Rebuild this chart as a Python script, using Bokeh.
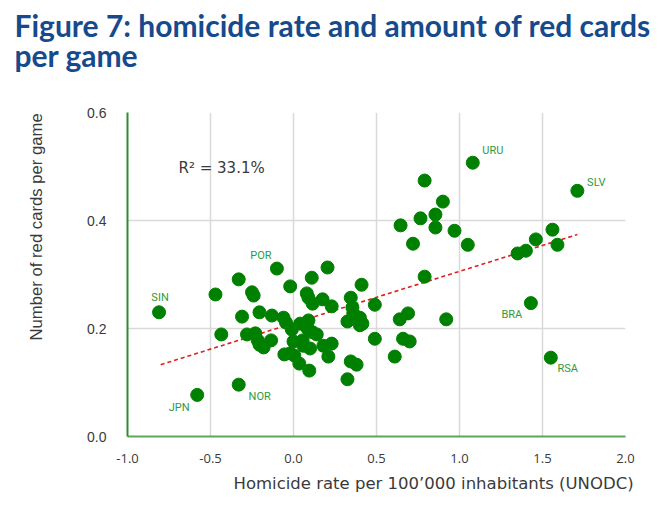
from bokeh.embed import file_html
from bokeh.models import ColumnDataSource, FixedTicker, Label, NumeralTickFormatter, Title
from bokeh.plotting import figure
from bokeh.core.properties import value
from bokeh.resources import INLINE

# Countries that carry a name tag
named_codes = ["SIN", "JPN", "NOR", "POR", "URU", "SLV", "BRA", "RSA"]
named_homicide = [-0.81, -0.58, -0.33, -0.10, 1.08, 1.71, 1.43, 1.55]
named_red_cards = [0.230, 0.077, 0.096, 0.311, 0.507, 0.455, 0.247, 0.146]

# All other countries
homicide = [
    0.79, 0.90, 0.855, 0.765, 0.645, 0.855, 0.97, 0.72, 1.05, 1.56,
    1.46, 1.40, 1.35, 1.59, 0.79, 0.69, 0.64, 0.92, 0.66, 0.70,
    0.61, 0.205, -0.33, 0.11, -0.02, 0.41, -0.47, -0.25, -0.24, 0.08,
    0.09, 0.115, 0.175, 0.23, 0.345, 0.49, -0.31, -0.205, -0.13, -0.06,
    -0.045, 0.355, 0.36, 0.325, 0.40, 0.40, 0.415, -0.435, -0.28, -0.23,
    -0.215, -0.205, -0.18, -0.135, -0.01, 0.04, 0.07, 0.09, 0.085, 0.115,
    0.14, 0.00, 0.055, 0.06, 0.10, 0.18, 0.23, 0.21, -0.055, -0.02,
    0.005, 0.035, 0.095, 0.345, 0.38, 0.325, 0.49,
]
red_cards = [
    0.474, 0.435, 0.411, 0.404, 0.391, 0.387, 0.381, 0.357, 0.355, 0.383,
    0.365, 0.344, 0.339, 0.355, 0.296, 0.228, 0.217, 0.217, 0.181, 0.176,
    0.148, 0.313, 0.291, 0.294, 0.278, 0.281, 0.263, 0.267, 0.261, 0.265,
    0.257, 0.246, 0.254, 0.241, 0.257, 0.244, 0.222, 0.230, 0.224, 0.220,
    0.211, 0.239, 0.228, 0.213, 0.220, 0.206, 0.209, 0.189, 0.189, 0.191,
    0.178, 0.170, 0.165, 0.178, 0.198, 0.209, 0.206, 0.215, 0.200, 0.193,
    0.189, 0.176, 0.178, 0.168, 0.163, 0.168, 0.172, 0.148, 0.152, 0.154,
    0.150, 0.135, 0.122, 0.139, 0.133, 0.106, 0.181,
]

# Linear trend (end points)
trend_x = [-0.80, 1.71]
trend_y = [0.133, 0.374]

r_squared_text = "R² = 33.1%"
x_ticks = [-1.0, -0.5, 0.0, 0.5, 1.0, 1.5, 2.0]
y_ticks = [0.0, 0.2, 0.4, 0.6]

# Pixel offsets of each name tag relative to its dot
tag_dx = {"SIN": 1, "JPN": -18, "NOR": 21, "POR": -16, "URU": 20, "SLV": 19, "BRA": -19, "RSA": 17}
tag_dy = {"SIN": -15, "JPN": 13, "NOR": 12, "POR": -13, "URU": -12, "SLV": -8, "BRA": 11, "RSA": 11}

GREEN = "#008000"
TAG_GREEN = "#2f9a3c"
TEXT = "#3a3a3a"
HEAD = "#164a8c"

p = figure(
    width=667, height=517,
    x_range=(-1.0, 2.0), y_range=(0.0, 0.6),
    output_backend="svg", toolbar_location=None,
    min_border_left=127, min_border_right=42,
    min_border_top=112, min_border_bottom=81,
)
p.outline_line_color = None
p.background_fill_color = "white"
p.border_fill_color = "white"

# Grid
p.xgrid.ticker = FixedTicker(ticks=x_ticks[1:])
p.ygrid.ticker = FixedTicker(ticks=y_ticks[1:])
for g in (p.xgrid, p.ygrid):
    g.grid_line_color = "#d9d9d9"
    g.grid_line_width = 1.5

# Axes
p.xaxis.ticker = FixedTicker(ticks=x_ticks)
p.yaxis.ticker = FixedTicker(ticks=y_ticks)
p.xaxis.formatter = NumeralTickFormatter(format="0.0")
p.yaxis.formatter = NumeralTickFormatter(format="0.0")
for ax in (p.xaxis, p.yaxis):
    ax.major_tick_line_color = None
    ax.minor_tick_line_color = None
    ax.axis_line_width = 2
    ax.major_label_text_color = TEXT
p.xaxis.axis_line_color = "#5aa85a"
p.yaxis.axis_line_color = "#2e8b2e"
p.xaxis.major_label_text_font = "Open Sans"
p.xaxis.major_label_text_font_size = "13px"
p.xaxis.major_label_standoff = 11
p.yaxis.major_label_text_font = "Liberation Sans"
p.yaxis.major_label_text_font_size = "14px"
p.yaxis.major_label_standoff = 15

# Trend line
p.line(trend_x, trend_y, line_color="#e0201e", line_width=1.6, line_dash="4 3")

# Dots
p.scatter(homicide + named_homicide, red_cards + named_red_cards,
          size=13, fill_color=GREEN, line_color=GREEN)

# Country tags
tags = ColumnDataSource(dict(
    x=named_homicide, y=named_red_cards, text=named_codes,
    dx=[tag_dx[c] for c in named_codes], dy=[tag_dy[c] for c in named_codes],
))
p.text(x="x", y="y", text="text", x_offset="dx", y_offset="dy", source=tags,
       text_color=TAG_GREEN, text_font=value("Roboto"), text_font_size="11px",
       text_align="center", text_baseline="middle")

# R² note inside the plot area
p.add_layout(Label(x=51, y=269, x_units="screen", y_units="screen",
                   text=r_squared_text,
                   text_font="DejaVu Sans", text_font_size="15px",
                   text_color=TEXT, text_align="left", text_baseline="middle"))


def spacer(gap):
    # blank title used only to keep a gap between a side title and the plot
    return Title(text=" ", text_font_size="1px", standoff=gap)


# Two-line headline, held above the plot by a spacer
p.add_layout(spacer(29), "above")
p.add_layout(Title(text="Figure 7: homicide rate and amount of red cards\nper game",
                   align="left", offset=-113, standoff=12, vertical_align="top",
                   text_font="Lato", text_font_style="bold", text_font_size="30px",
                   text_line_height=0.84, text_color=HEAD), "above")

# Axis titles
p.add_layout(Title(text="Homicide rate per 100’000 inhabitants (UNODC)",
                   align="left", offset=106, standoff=12,
                   text_font="DejaVu Sans", text_font_style="normal", text_font_size="16.5px",
                   text_color=TEXT), "below")
p.add_layout(spacer(14), "left")
p.add_layout(Title(text="Number of red cards per game",
                   align="left", offset=96, standoff=44,
                   text_font="Liberation Sans", text_font_style="normal", text_font_size="16.7px",
                   text_color=TEXT), "left")

open("out.html", "w").write(file_html(p, INLINE))
